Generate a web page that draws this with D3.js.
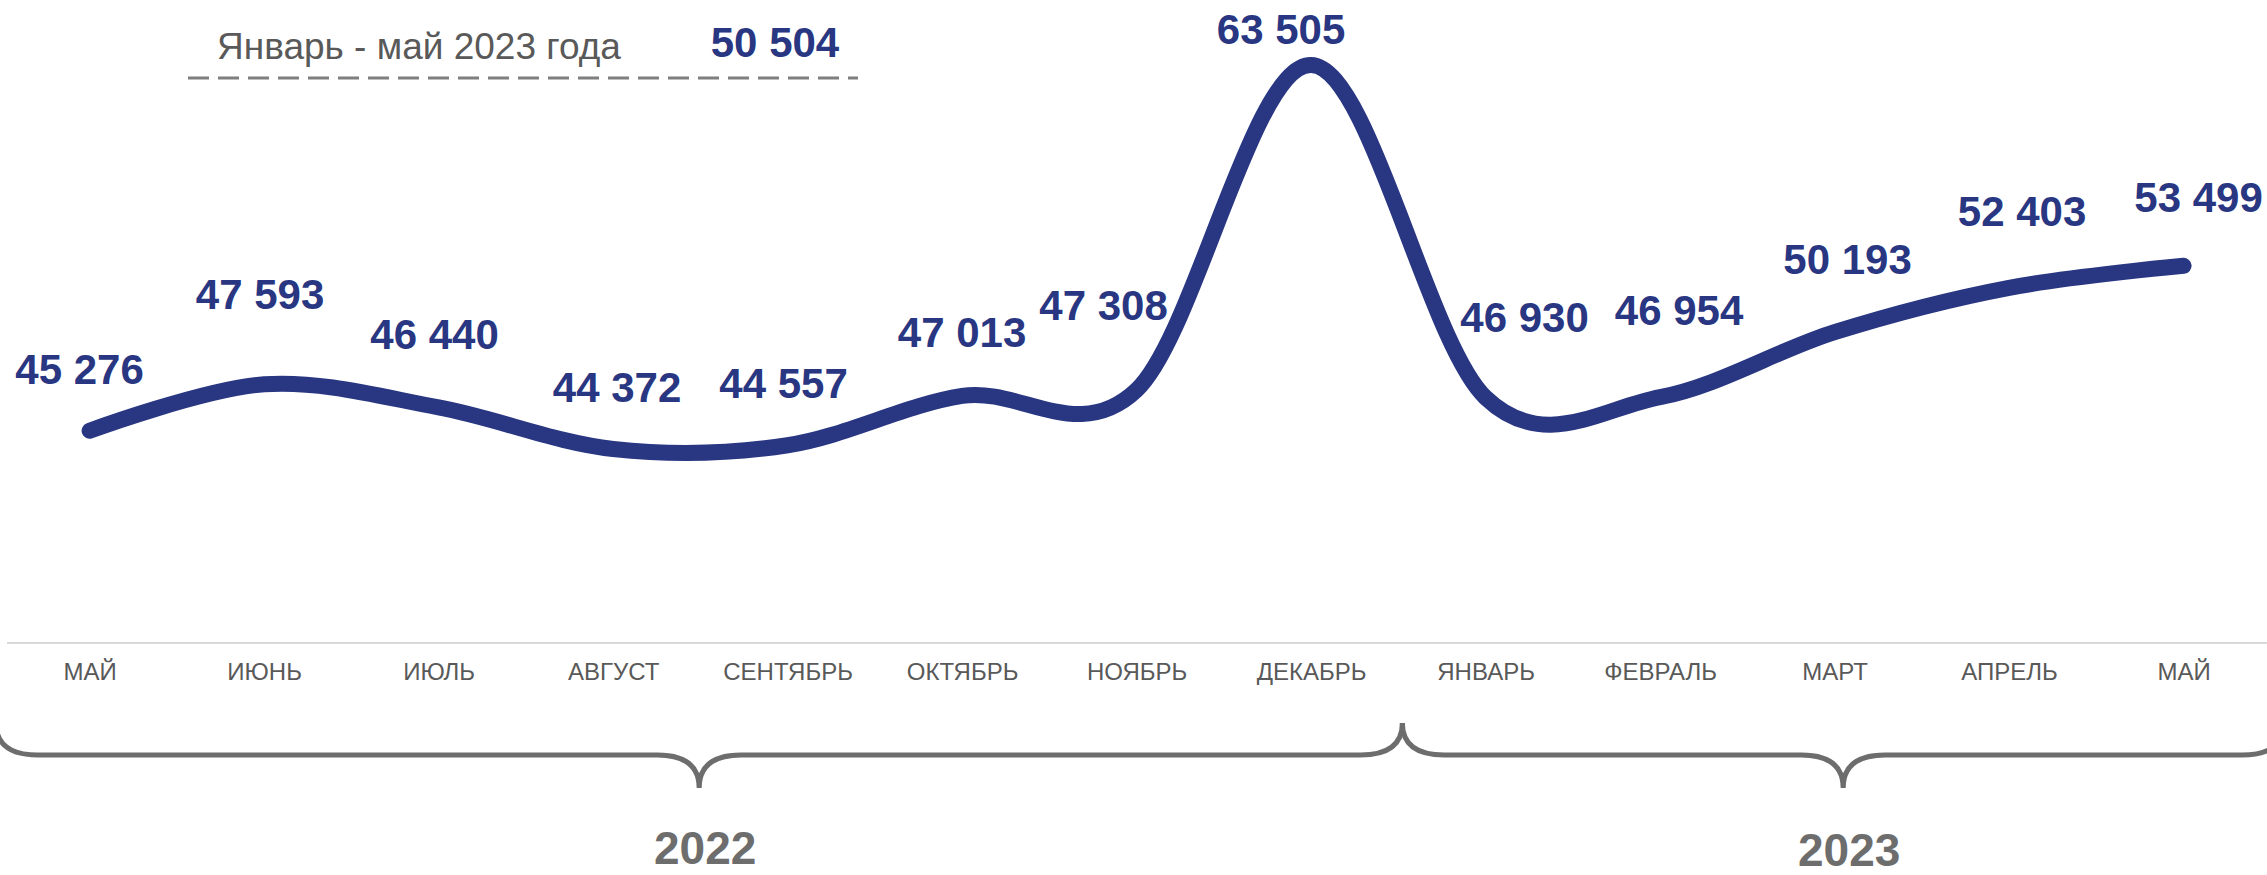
<!DOCTYPE html>
<html>
<head>
<meta charset="utf-8">
<script src="https://cdn.jsdelivr.net/npm/d3@7"></script>
<style>
  body { margin: 0; background: #fff; }
  text { font-family: Arial, "Liberation Sans", sans-serif; }
</style>
</head>
<body>
<div id="chart"></div>
<script>
// Data
const months = ["МАЙ", "ИЮНЬ", "ИЮЛЬ", "АВГУСТ", "СЕНТЯБРЬ", "ОКТЯБРЬ", "НОЯБРЬ",
                "ДЕКАБРЬ", "ЯНВАРЬ", "ФЕВРАЛЬ", "МАРТ", "АПРЕЛЬ", "МАЙ"];
const values = [45276, 47593, 46440, 44372, 44557, 47013, 47308,
                63505, 46930, 46954, 50193, 52403, 53499];
const years = ["2022", "2023"];
const yearStart = [0, 8];   // index of the first month of each year
const yearEnd = [7, 12];
const summaryLabel = "Январь - май 2023 года";
const summaryValue = 50504;

// Label nudges (px) relative to each point, as placed in the original
const labelDx = [-10, -4, -4, 4, -4, 0, -33, -30, 39, 19, 13, 13, 15];
const labelDy = [-47, -75, -58, -47, -47, -49, -70, -21, -66, -72, -58, -62, -54];

const width = 2267, height = 875;
const blue = "#293682", grey = "#595959", darkGrey = "#6d6d6d";

const svg = d3.select("#chart")
    .append("svg")
    .attr("width", width)
    .attr("height", height);

svg.append("rect").attr("width", width).attr("height", height).attr("fill", "#fff");

// Scales
const x = d3.scaleLinear()
    .domain([0, months.length - 1])
    .range([89.6, 2183.6]);

const y = d3.scaleLinear()
    .domain([35000, 65000])
    .range([637, 35]);

const fmt = v => d3.format(",")(v).replace(/,/g, " ");

// Axis baseline
svg.append("line")
    .attr("x1", 7).attr("x2", width)
    .attr("y1", 643).attr("y2", 643)
    .attr("stroke", "#d9d9d9")
    .attr("stroke-width", 2);

// Month labels
const xAxis = svg.append("g")
    .attr("transform", "translate(0,643)")
    .call(d3.axisBottom(x)
        .tickValues(d3.range(months.length))
        .tickFormat(i => months[i])
        .tickSize(0)
        .tickPadding(20));
xAxis.select(".domain").remove();
xAxis.selectAll("text")
    .attr("font-family", "Arial, 'Liberation Sans', sans-serif")
    .attr("font-size", 24)
    .attr("fill", grey);

// Line
const line = d3.line()
    .x((d, i) => x(i))
    .y(d => y(d))
    .curve(d3.curveCardinal.tension(0));

svg.append("path")
    .datum(values)
    .attr("d", line)
    .attr("fill", "none")
    .attr("stroke", blue)
    .attr("stroke-width", 16)
    .attr("stroke-linecap", "round")
    .attr("stroke-linejoin", "round");

// Value labels
svg.selectAll(".val")
    .data(values)
    .enter()
    .append("text")
    .attr("class", "val")
    .attr("x", (d, i) => x(i) + labelDx[i])
    .attr("y", (d, i) => y(d) + labelDy[i])
    .attr("text-anchor", "middle")
    .attr("font-size", 42)
    .attr("font-weight", "bold")
    .attr("fill", blue)
    .text(d => fmt(d));

// Summary header
svg.append("text")
    .attr("x", 217).attr("y", 59)
    .attr("font-size", 37)
    .attr("fill", grey)
    .text(summaryLabel);

svg.append("text")
    .attr("x", 775).attr("y", 57)
    .attr("text-anchor", "middle")
    .attr("font-size", 42)
    .attr("font-weight", "bold")
    .attr("fill", blue)
    .text(fmt(summaryValue));

svg.append("line")
    .attr("x1", 188).attr("x2", 858)
    .attr("y1", 78).attr("y2", 78)
    .attr("stroke", "#7f7f7f")
    .attr("stroke-width", 3)
    .attr("stroke-dasharray", "21 9");

// Year braces
function brace(x0, x1, yb, h, r, tip) {
    const xm = (x0 + x1) / 2;
    return `M${x0},${yb - h} Q${x0},${yb} ${x0 + r},${yb}` +
        ` L${xm - r},${yb} Q${xm},${yb} ${xm},${yb + tip}` +
        ` Q${xm},${yb} ${xm + r},${yb} L${x1 - r},${yb}` +
        ` Q${x1},${yb} ${x1},${yb - h}`;
}

years.forEach((yr, k) => {
    // braces meet half-way between the last month of one year and the first of the next
    const x0 = k === 0 ? -4 : (x(yearEnd[k - 1]) + x(yearStart[k])) / 2 + 4;
    const x1 = k === 0 ? (x(yearEnd[k]) + x(yearStart[k + 1])) / 2 + 4 : 2284;
    svg.append("path")
        .attr("d", brace(x0, x1, 755, 32, 42, 33))
        .attr("fill", "none")
        .attr("stroke", darkGrey)
        .attr("stroke-width", 5);

    svg.append("text")
        .attr("x", (x0 + x1) / 2 + 6)
        .attr("y", 864 + k * 2)
        .attr("text-anchor", "middle")
        .attr("font-size", 46)
        .attr("font-weight", "bold")
        .attr("fill", darkGrey)
        .text(yr);
});
</script>
</body>
</html>
